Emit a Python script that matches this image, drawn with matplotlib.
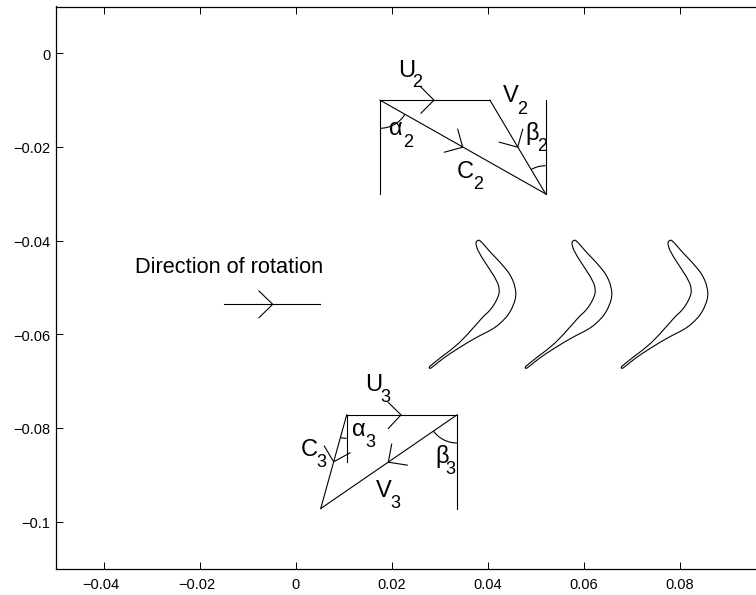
import matplotlib
matplotlib.use('Agg')
import matplotlib.pyplot as plt
from matplotlib.patches import Arc, PathPatch
from matplotlib.path import Path
from matplotlib.transforms import ScaledTranslation

plt.rcParams['font.family'] = ['Liberation Sans', 'DejaVu Sans']

x_ticks = [-0.04, -0.02, 0, 0.02, 0.04, 0.06, 0.08]
x_tick_labels = ['\u22120.04', '\u22120.02', '0', '0.02', '0.04', '0.06', '0.08']
y_ticks = [0, -0.02, -0.04, -0.06, -0.08, -0.1]
y_tick_labels = ['0', '\u22120.02', '\u22120.04', '\u22120.06', '\u22120.08', '\u22120.1']

# blade outline, first blade of the row
blade_x = [0.03798, 0.03869, 0.04042, 0.04250, 0.04423, 0.04527, 0.04577, 0.04563,
           0.04479, 0.04354, 0.04125, 0.03729, 0.03381, 0.03069, 0.02827, 0.02777,
           0.02813, 0.03069, 0.03348, 0.03590, 0.03869, 0.04042, 0.04160, 0.04229,
           0.04215, 0.04110, 0.03938, 0.03798, 0.03750]
blade_y = [-0.03991, -0.04034, -0.04235, -0.04462, -0.04675, -0.04876, -0.05090, -0.05267,
           -0.05481, -0.05662, -0.05865, -0.06085, -0.06299, -0.06513, -0.06709, -0.06714,
           -0.06662, -0.06453, -0.06229, -0.05979, -0.05658, -0.05481, -0.05303, -0.05124,
           -0.04947, -0.04733, -0.04462, -0.04220, -0.04056]
blade_offsets = [0, 0.02, 0.04]

# velocity triangles: each entry is x pair, y pair
tri_segments = [
    ([0.0175, 0.0404], [-0.01, -0.01]),
    ([0.0175, 0.052], [-0.01, -0.03]),
    ([0.0404, 0.052], [-0.01, -0.03]),
    ([0.0175, 0.0175], [-0.01, -0.03]),
    ([0.052, 0.052], [-0.01, -0.03]),
    ([0.01056, 0.03354], [-0.0772, -0.0772]),
    ([0.01056, 0.00515], [-0.0772, -0.0972]),
    ([0.03354, 0.00515], [-0.0772, -0.0972]),
    ([0.01056, 0.01056], [-0.0772, -0.0872]),
    ([0.03354, 0.03354], [-0.0772, -0.0972]),
    ([-0.01494, 0.005], [-0.05359, -0.05359]),
]

# arrow heads: barb, tip, barb
head_x = [
    [0.02604, 0.02875, 0.02604],
    [0.03369, 0.03473, 0.03090],
    [0.04723, 0.04619, 0.04235],
    [0.01923, 0.02188, 0.01923],
    [0.01994, 0.01923, 0.02319],
    [0.00590, 0.00785, 0.01125],
    [-0.00771, -0.00485, -0.00771],
]
head_y = [
    [-0.00722, -0.01, -0.01278],
    [-0.01620, -0.02004, -0.02111],
    [-0.01620, -0.02004, -0.01897],
    [-0.07454, -0.0772, -0.08010],
    [-0.08344, -0.0873, -0.08793],
    [-0.08387, -0.08722, -0.08530],
    [-0.05075, -0.05359, -0.05645],
]

# angle arcs: centre x, centre y, radius, from, to
arcs = [
    (0.0175, -0.01, 0.006, 270, 330),
    (0.052, -0.03, 0.006, 90, 120),
    (0.01056, -0.0772, 0.005, 255, 270),
    (0.03354, -0.0772, 0.006, 215, 270),
]

# letter, subscript, letter position, subscript position
labels = [
    ('U', '2', 0.02125, -0.00496, 0.02417, -0.00709),
    ('V', '2', 0.04313, -0.0103, 0.04598, -0.01293),
    ('\u03b1', '2', 0.01938, -0.01741, 0.02229, -0.02004),
    ('\u03b2', '2', 0.04771, -0.01848, 0.05015, -0.02083),
    ('C', '2', 0.03354, -0.02667, 0.03681, -0.02895),
    ('U', '3', 0.01438, -0.07212, 0.0175, -0.0744),
    ('\u03b1', '3', 0.01173, -0.08167, 0.01438, -0.08402),
    ('C', '3', 0.00104, -0.08600, 0.00417, -0.08829),
    ('\u03b2', '3', 0.02896, -0.0875, 0.03119, -0.08991),
    ('V', '3', 0.01667, -0.09470, 0.01958, -0.09718),
]


def blade_path(xs, ys):
    # closed smooth outline through the read points, as cubic beziers
    n = len(xs)
    verts = [(xs[0], ys[0])]
    codes = [Path.MOVETO]
    for i in range(n):
        x0, y0 = xs[i - 1], ys[i - 1]
        x1, y1 = xs[i], ys[i]
        x2, y2 = xs[(i + 1) % n], ys[(i + 1) % n]
        x3, y3 = xs[(i + 2) % n], ys[(i + 2) % n]
        verts.append((x1 + (x2 - x0) / 6, y1 + (y2 - y0) / 6))
        verts.append((x2 - (x3 - x1) / 6, y2 - (y3 - y1) / 6))
        verts.append((x2, y2))
        codes += [Path.CURVE4, Path.CURVE4, Path.CURVE4]
    return Path(verts, codes)


W, H = 756, 595
fig = plt.figure(figsize=(W / 100, H / 100), dpi=100)
# the axes run past the right edge of the picture, as in the original
ax = fig.add_axes([56 / W, (H - 568.5) / H, 720 / W, 562 / H])
ax.set_xlim(-0.05, 0.1)
ax.set_ylim(-0.11, 0.01)

lw = 0.8
for off in blade_offsets:
    ax.add_patch(PathPatch(blade_path([x + off for x in blade_x], blade_y),
                           facecolor='none', edgecolor='k', lw=lw))
for sx, sy in tri_segments:
    ax.plot(sx, sy, color='k', lw=lw)
for hx, hy in zip(head_x, head_y):
    ax.plot(hx, hy, color='k', lw=lw)
for cx, cy, r, t1, t2 in arcs:
    ax.add_patch(Arc((cx, cy), 2 * r, 2 * r, theta1=t1, theta2=t2, color='k', lw=lw))

for main, sub, mx, my, sx, sy in labels:
    ax.text(mx, my, main, fontsize=17, ha='left', va='baseline')
    ax.text(sx, sy, sub, fontsize=13, ha='left', va='baseline')
ax.text(-0.03354, -0.04697, 'Direction of rotation', fontsize=15.7, ha='left', va='baseline')

ax.set_xticks(x_ticks)
ax.set_xticklabels(x_tick_labels)
ax.set_yticks(y_ticks)
ax.set_yticklabels(y_tick_labels)
ax.tick_params(direction='in', length=5, width=0.7, top=True, right=True,
               labelsize=10.5, color='k')
ax.tick_params(axis='x', pad=7)
ax.tick_params(axis='y', pad=4)
for s in ax.spines.values():
    s.set_linewidth(0.9)

# negative x labels sit a little left of their ticks, y labels a little low
for lab in ax.get_xticklabels():
    if lab.get_text().startswith('\u2212'):
        lab.set_transform(lab.get_transform() + ScaledTranslation(-3.5 / 100, 0, fig.dpi_scale_trans))
for lab in ax.get_yticklabels():
    lab.set_transform(lab.get_transform() + ScaledTranslation(0, -1 / 100, fig.dpi_scale_trans))

fig.savefig('out.png', dpi=100)
